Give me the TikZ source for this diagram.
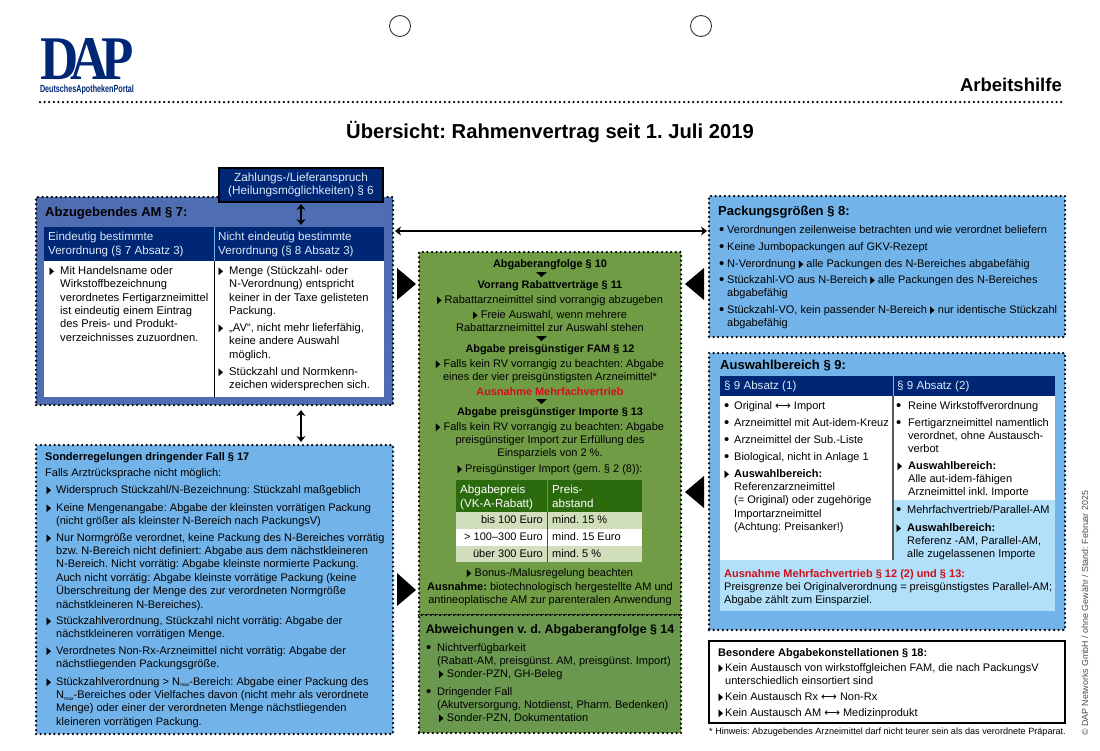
\documentclass[tikz,border=0pt]{standalone}
\usepackage{fontspec}
\setmainfont{Liberation Sans}
\newfontfamily\symfont{DejaVu Sans}
\newfontfamily\logofont{Liberation Serif}
\usetikzlibrary{arrows.meta}
\frenchspacing

\definecolor{amblau}{HTML}{4F6DB3}
\definecolor{dunkelblau}{HTML}{002776}
\definecolor{hellblau}{HTML}{72B4EA}
\definecolor{zartblau}{HTML}{B2E0FA}
\definecolor{kopftext}{HTML}{DCE8F6}
\definecolor{gruen}{HTML}{6F9C45}
\definecolor{gruenzwei}{HTML}{6A984E}
\definecolor{dunkelgruen}{HTML}{2C6A0E}
\definecolor{zeilengruen}{HTML}{D0DEBB}
\definecolor{signalrot}{HTML}{D0111B}

\newcommand{\dreieck}{\scalebox{0.55}[0.95]{\symfont\fontsize{11}{11}\selectfont ▶}}
\newcommand{\tri}[1][5pt]{\leavevmode\llap{\dreieck\hspace{#1}}\ignorespaces}
\newcommand{\punkt}[1][3pt]{\leavevmode\llap{\raisebox{-0.9pt}{\scalebox{1.35}{\textbullet}}\hspace{#1}}\ignorespaces}
\newcommand{\dpfeil}{{\symfont ⟷}}
\newcommand{\Nmax}{N{\raisebox{-1.5pt}{\fontsize{5}{5}\selectfont max}}}

\tikzset{
    txt/.style={anchor=north west, align=left, inner sep=0pt, font=\fontsize{11}{13.4}\selectfont},
    amtxt/.style={txt, font=\fontsize{11.2}{13.4}\selectfont},
    mitte/.style={anchor=north, align=center, inner sep=0pt, font=\fontsize{11}{13.4}\selectfont},
    titel/.style={txt, font=\fontsize{13}{16}\bfseries},
    zwischen/.style={mitte, font=\fontsize{10.9}{13.4}\bfseries},
    kopftxt/.style={txt, text=kopftext, font=\fontsize{11.6}{13.4}\selectfont},
    feld/.style={anchor=north west, inner sep=0pt, outer sep=0pt},
    punktbox/.style={feld, draw=black, line width=2.5pt, line cap=round, dash pattern=on 0pt off 4.6pt},
    doppelpfeil/.style={{Stealth[width=9pt,length=6pt]}-{Stealth[width=9pt,length=6pt]}, line width=1.3pt},
}

\begin{document}
\begin{tikzpicture}[x=1pt, y=-1pt]
    \useasboundingbox (0,0) rectangle (1100,750);

    % Lochmarken, Logo, Kopfzeile
    \node[circle, draw=black!80, line width=0.9pt, minimum size=21pt, inner sep=0pt] (lochl) at (400,26) {};
    \node[circle, draw=black!80, line width=0.9pt, minimum size=21pt, inner sep=0pt] (lochr) at (701,26) {};
    \node[feld, text=dunkelblau] (logo) at (40,38) {\resizebox{94pt}{41pt}{\logofont\bfseries D\kern-0.14em A\kern-0.14em P}};
    \node[feld, text=dunkelblau] (portal) at (40,84.5) {\resizebox{94pt}{7.5pt}{\bfseries DeutschesApothekenPortal}};
    \node[anchor=east, inner sep=0pt, font=\fontsize{18.5}{20}\bfseries] (arbeit) at (1062,85) {Arbeitshilfe};
    \draw[black, line width=2.5pt, line cap=round, dash pattern=on 0pt off 4.6pt] (40,102) -- (1062,102);
    \node[inner sep=0pt, font=\fontsize{20.2}{24}\bfseries] (ueber) at (550,132) {Übersicht: Rahmenvertrag seit 1. Juli 2019};
    \node[rotate=90, anchor=west, inner sep=0pt, text=black!70, font=\fontsize{8.9}{10}\selectfont] (stand) at (1085,736) {© DAP Networks GmbH / ohne Gewähr / Stand: Februar 2025};

    % Abzugebendes AM
    \node[punktbox, fill=amblau, minimum width=357pt, minimum height=208pt] (am) at (36,197) {};
    \node[feld, fill=dunkelblau, minimum width=170pt, minimum height=34pt] (kopfl) at (44,227) {};
    \node[feld, fill=dunkelblau, minimum width=170pt, minimum height=34pt] (kopfr) at (214,227) {};
    \node[feld, fill=white, minimum width=170pt, minimum height=136pt] (bodyl) at (44,261) {};
    \node[feld, fill=white, minimum width=170pt, minimum height=136pt] (bodyr) at (214,261) {};
    \draw[hellblau, line width=0.8pt] (kopfr.north west) -- (kopfr.south west);
    \draw[black, line width=0.8pt] (bodyr.north west) -- (bodyr.south west);
    \node[titel] (amtitel) at (45,207) {Abzugebendes AM § 7:};
    \node[kopftxt] (kl) at (48,232) {Eindeutig bestimmte\\Verordnung (§ 7 Absatz 3)};
    \node[kopftxt] (kr) at (218,232) {Nicht eindeutig bestimmte\\Verordnung (§ 8 Absatz 3)};
    \node[amtxt] (a1) at (60,266) {\tri[6pt] Mit Handelsname oder\\Wirkstoffbezeichnung\\verordnetes Fertigarzneimittel\\ist eindeutig einem Eintrag\\des Preis- und Produkt-\\verzeichnisses zuzuordnen.};
    \node[amtxt] (a2) at (229,266) {\tri[6pt] Menge (Stückzahl- oder\\N-Verordnung) entspricht\\keiner in der Taxe gelisteten\\Packung.};
    \node[amtxt] (a3) at (229,323) {\tri[6pt] „AV“, nicht mehr lieferfähig,\\keine andere Auswahl\\möglich.};
    \node[amtxt] (a4) at (229,367) {\tri[6pt] Stückzahl und Normkenn-\\zeichen widersprechen sich.};

    % Zahlungsanspruch
    \node[feld, fill=dunkelblau, draw=black, line width=1.5pt, minimum width=164pt, minimum height=34pt, align=center, text=kopftext, font=\fontsize{11.8}{13}\selectfont] (zahlung) at (219,168) {Zahlungs-/Lieferanspruch\\(Heilungsmöglichkeiten) § 6};

    % Sonderregelungen
    \node[punktbox, fill=hellblau, minimum width=357pt, minimum height=289pt] (sonder) at (36,445) {};
    \node[txt, font=\fontsize{11}{13.4}\bfseries] (stitel) at (45,452) {Sonderregelungen dringender Fall § 17};
    \node[txt] (s0) at (45,468) {Falls Arztrücksprache nicht möglich:};
    \node[txt] (s1) at (56,485) {\tri Widerspruch Stückzahl/N-Bezeichnung: Stückzahl maßgeblich};
    \node[txt] (s2) at (56,503) {\tri Keine Mengenangabe: Abgabe der kleinsten vorrätigen Packung\\(nicht größer als kleinster N-Bereich nach PackungsV)};
    \node[txt] (s3) at (56,533) {\tri Nur Normgröße verordnet, keine Packung des N-Bereiches vorrätig\\bzw. N-Bereich nicht definiert: Abgabe aus dem nächstkleineren\\N-Bereich. Nicht vorrätig: Abgabe kleinste normierte Packung.\\Auch nicht vorrätig: Abgabe kleinste vorrätige Packung (keine\\Überschreitung der Menge des zur verordneten Normgröße\\nächstkleineren N-Bereiches).};
    \node[txt] (s4) at (56,616) {\tri Stückzahlverordnung, Stückzahl nicht vorrätig: Abgabe der\\nächstkleineren vorrätigen Menge.};
    \node[txt] (s5) at (56,646) {\tri Verordnetes Non-Rx-Arzneimittel nicht vorrätig: Abgabe der\\nächstliegenden Packungsgröße.};
    \node[txt] (s6) at (56,677) {\tri Stückzahlverordnung > \Nmax-Bereich: Abgabe einer Packung des\\\Nmax-Bereiches oder Vielfaches davon (nicht mehr als verordnete\\Menge) oder einer der verordneten Menge nächstliegenden\\kleineren vorrätigen Packung.};

    % Abgaberangfolge
    \node[punktbox, fill=gruen, minimum width=262pt, minimum height=363pt] (folge) at (419,252) {};
    \node[punktbox, fill=gruenzwei, minimum width=262pt, minimum height=118pt] (abweich) at (419,615) {};
    \node[zwischen] (m0) at (550,259) {Abgaberangfolge § 10};
    \node[zwischen] (m1) at (550,280) {Vorrang Rabattverträge § 11};
    \node[mitte] (m2) at (550,295) {\dreieck\ Rabattarzneimittel sind vorrangig abzugeben};
    \node[mitte] (m3) at (550,310) {\dreieck\ Freie Auswahl, wenn mehrere\\Rabattarzneimittel zur Auswahl stehen};
    \node[zwischen] (m4) at (550,344) {Abgabe preisgünstiger FAM § 12};
    \node[mitte] (m5) at (550,359) {\dreieck\ Falls kein RV vorrangig zu beachten: Abgabe\\eines der vier preisgünstigsten Arzneimittel*};
    \node[zwischen, text=signalrot] (m6) at (550,387) {Ausnahme Mehrfachvertrieb};
    \node[zwischen] (m7) at (550,407) {Abgabe preisgünstiger Importe § 13};
    \node[mitte] (m8) at (550,422) {\dreieck\ Falls kein RV vorrangig zu beachten: Abgabe\\preisgünstiger Import zur Erfüllung des\\Einsparziels von 2 \%.};
    \node[mitte] (m9) at (550,464) {\dreieck\ Preisgünstiger Import (gem. § 2 (8)):};
    \fill (536,272) -- (547,272) -- (541.5,277) -- cycle;
    \fill (536,336) -- (547,336) -- (541.5,341) -- cycle;
    \fill (536,399) -- (547,399) -- (541.5,404) -- cycle;

    % Preistabelle
    \node[feld, fill=dunkelgruen, minimum width=91pt, minimum height=32pt] (tk1) at (456,480) {};
    \node[feld, fill=dunkelgruen, minimum width=95pt, minimum height=32pt] (tk2) at (547,480) {};
    \node[feld, fill=zeilengruen, minimum width=186pt, minimum height=17pt] (z1) at (456,512) {};
    \node[feld, fill=white, minimum width=186pt, minimum height=17pt] (z2) at (456,529) {};
    \node[feld, fill=zeilengruen, minimum width=186pt, minimum height=16pt] (z3) at (456,546) {};
    \draw[gruen, line width=0.9pt] (tk2.north west) -- (tk2.south west);
    \draw[black!70, line width=0.9pt] (tk2.south west) -- (tk2.south west |- z3.south);
    \node[kopftxt, text=white] (tk1t) at (460,485) {Abgabepreis\\(VK-A-Rabatt)};
    \node[kopftxt, text=white] (tk2t) at (552,485) {Preis-\\abstand};
    \node[txt, anchor=east] (w1) at (543,520) {bis 100 Euro};
    \node[txt, anchor=east] (w2) at (543,537) {> 100–300 Euro};
    \node[txt, anchor=east] (w3) at (543,554) {über 300 Euro};
    \node[txt, anchor=west] (p1) at (552,520) {mind. 15 \%};
    \node[txt, anchor=west] (p2) at (552,537) {mind. 15 Euro};
    \node[txt, anchor=west] (p3) at (552,554) {mind. 5 \%};
    \node[mitte] (m10) at (550,568) {\dreieck\ Bonus-/Malusregelung beachten};
    \node[mitte] (m11) at (550,582) {\textbf{Ausnahme:} biotechnologisch hergestellte AM und\\antineoplatische AM zur parenteralen Anwendung};

    % Abweichungen
    \node[zwischen, font=\fontsize{12.4}{15}\bfseries] (btitel) at (550,624) {Abweichungen v. d. Abgaberangfolge § 14};
    \node[txt] (b1) at (437,643) {\punkt[6pt] Nichtverfügbarkeit\\(Rabatt-AM, preisgünst. AM, preisgünst. Import)\\\hspace{2pt}\dreieck\ Sonder-PZN, GH-Beleg};
    \node[txt] (b2) at (437,687) {\punkt[6pt] Dringender Fall\\(Akutversorgung, Notdienst, Pharm. Bedenken)\\\hspace{2pt}\dreieck\ Sonder-PZN, Dokumentation};

    % Packungsgrößen
    \node[punktbox, fill=hellblau, minimum width=356pt, minimum height=141pt] (packung) at (709,196) {};
    \node[titel] (ptitel) at (718,206) {Packungsgrößen § 8:};
    \node[txt] (g1) at (727,225) {\punkt Verordnungen zeilenweise betrachten und wie verordnet beliefern};
    \node[txt] (g2) at (727,242) {\punkt Keine Jumbopackungen auf GKV-Rezept};
    \node[txt] (g3) at (727,259) {\punkt N-Verordnung \dreieck\ alle Packungen des N-Bereiches abgabefähig};
    \node[txt] (g4) at (727,275) {\punkt Stückzahl-VO aus N-Bereich \dreieck\ alle Packungen des N-Bereiches\\abgabefähig};
    \node[txt] (g5) at (727,305) {\punkt Stückzahl-VO, kein passender N-Bereich \dreieck\ nur identische Stückzahl\\abgabefähig};

    % Auswahlbereich
    \node[punktbox, fill=hellblau, minimum width=356pt, minimum height=277pt] (auswahl) at (709,353) {};
    \node[feld, fill=zartblau, minimum width=335pt, minimum height=235pt] (grund) at (720,376) {};
    \node[feld, fill=dunkelblau, minimum width=173pt, minimum height=20pt] (al) at (720,376) {};
    \node[feld, fill=dunkelblau, minimum width=162pt, minimum height=20pt] (ar) at (893,376) {};
    \node[feld, fill=white, minimum width=173pt, minimum height=164pt] (wl) at (720,396) {};
    \node[feld, fill=white, minimum width=162pt, minimum height=104pt] (wr) at (893,396) {};
    \draw[hellblau, line width=0.8pt] (ar.north west) -- (ar.south west);
    \draw[black!65, line width=1.2pt] (wr.north west) -- (wl.south east);
    \node[titel] (atitel) at (720,360) {Auswahlbereich § 9:};
    \node[kopftxt] (ah1) at (724,381) {§ 9 Absatz (1)};
    \node[kopftxt] (ah2) at (897,381) {§ 9 Absatz (2)};
    \node[txt] (l1) at (734,401) {\punkt[5pt] Original \dpfeil\ Import};
    \node[txt] (l2) at (734,418) {\punkt[5pt] Arzneimittel mit Aut-idem-Kreuz};
    \node[txt] (l3) at (734,435) {\punkt[5pt] Arzneimittel der Sub.-Liste};
    \node[txt] (l4) at (734,452) {\punkt[5pt] Biological, nicht in Anlage 1};
    \node[txt] (l5) at (734,469) {\tri \textbf{Auswahlbereich:}\\Referenzarzneimittel\\(= Original) oder zugehörige\\Importarzneimittel\\(Achtung: Preisanker!)};
    \node[txt] (r1) at (908,401) {\punkt[7pt] Reine Wirkstoffverordnung};
    \node[txt] (r2) at (908,418) {\punkt[7pt] Fertigarzneimittel namentlich\\verordnet, ohne Austausch-\\verbot};
    \node[txt] (r3) at (908,461) {\tri[6pt] \textbf{Auswahlbereich:}\\Alle aut-idem-fähigen\\Arzneimittel inkl. Importe};
    \node[txt] (r4) at (907,505) {\punkt[6pt] Mehrfachvertrieb/Parallel-AM};
    \node[txt] (r5) at (907,523) {\tri[6pt] \textbf{Auswahlbereich:}\\Referenz -AM, Parallel-AM,\\alle zugelassenen Importe};
    \node[txt] (rot) at (724,569) {\textcolor{signalrot}{\textbf{Ausnahme Mehrfachvertrieb § 12 (2) und § 13:}}\\Preisgrenze bei Originalverordnung = preisgünstigstes Parallel-AM;\\Abgabe zählt zum Einsparziel.};

    % Besondere Abgabekonstellationen
    \node[feld, fill=white, draw=black, line width=1.5pt, minimum width=356pt, minimum height=82pt] (besonder) at (709,641) {};
    \node[txt, font=\fontsize{11}{13.4}\bfseries] (btit) at (718,648) {Besondere Abgabekonstellationen § 18:};
    \node[txt] (k1) at (725,663) {\tri[2pt] Kein Austausch von wirkstoffgleichen FAM, die nach PackungsV\\unterschiedlich einsortiert sind};
    \node[txt] (k2) at (725,692) {\tri[2pt] Kein Austausch Rx \dpfeil\ Non-Rx};
    \node[txt] (k3) at (725,708) {\tri[2pt] Kein Austausch AM \dpfeil\ Medizinprodukt};
    \node[txt, font=\fontsize{9.1}{11}\selectfont] (hinweis) at (709,728) {* Hinweis: Abzugebendes Arzneimittel darf nicht teurer sein als das verordnete Präparat.};

    % Pfeile zwischen den Kästen
    \coordinate (pfeilhoehe) at (0,231);
    \draw[doppelpfeil, shorten <=2pt, shorten >=2pt] (zahlung.south) -- (zahlung.south |- kopfr.north);
    \draw[doppelpfeil, shorten <=5pt, shorten >=3pt] (zahlung.south |- am.south) -- (zahlung.south |- sonder.north);
    \draw[doppelpfeil, shorten <=2pt, shorten >=2pt] (am.east |- pfeilhoehe) -- (packung.west |- pfeilhoehe);

    % Große Dreiecke
    \fill (397,268) -- (416,284) -- (397,300) -- cycle;
    \fill (704,268) -- (685,284) -- (704,300) -- cycle;
    \fill (397,573) -- (416,590) -- (397,606) -- cycle;
    \fill (704,476) -- (685,492) -- (704,508) -- cycle;
\end{tikzpicture}
\end{document}
